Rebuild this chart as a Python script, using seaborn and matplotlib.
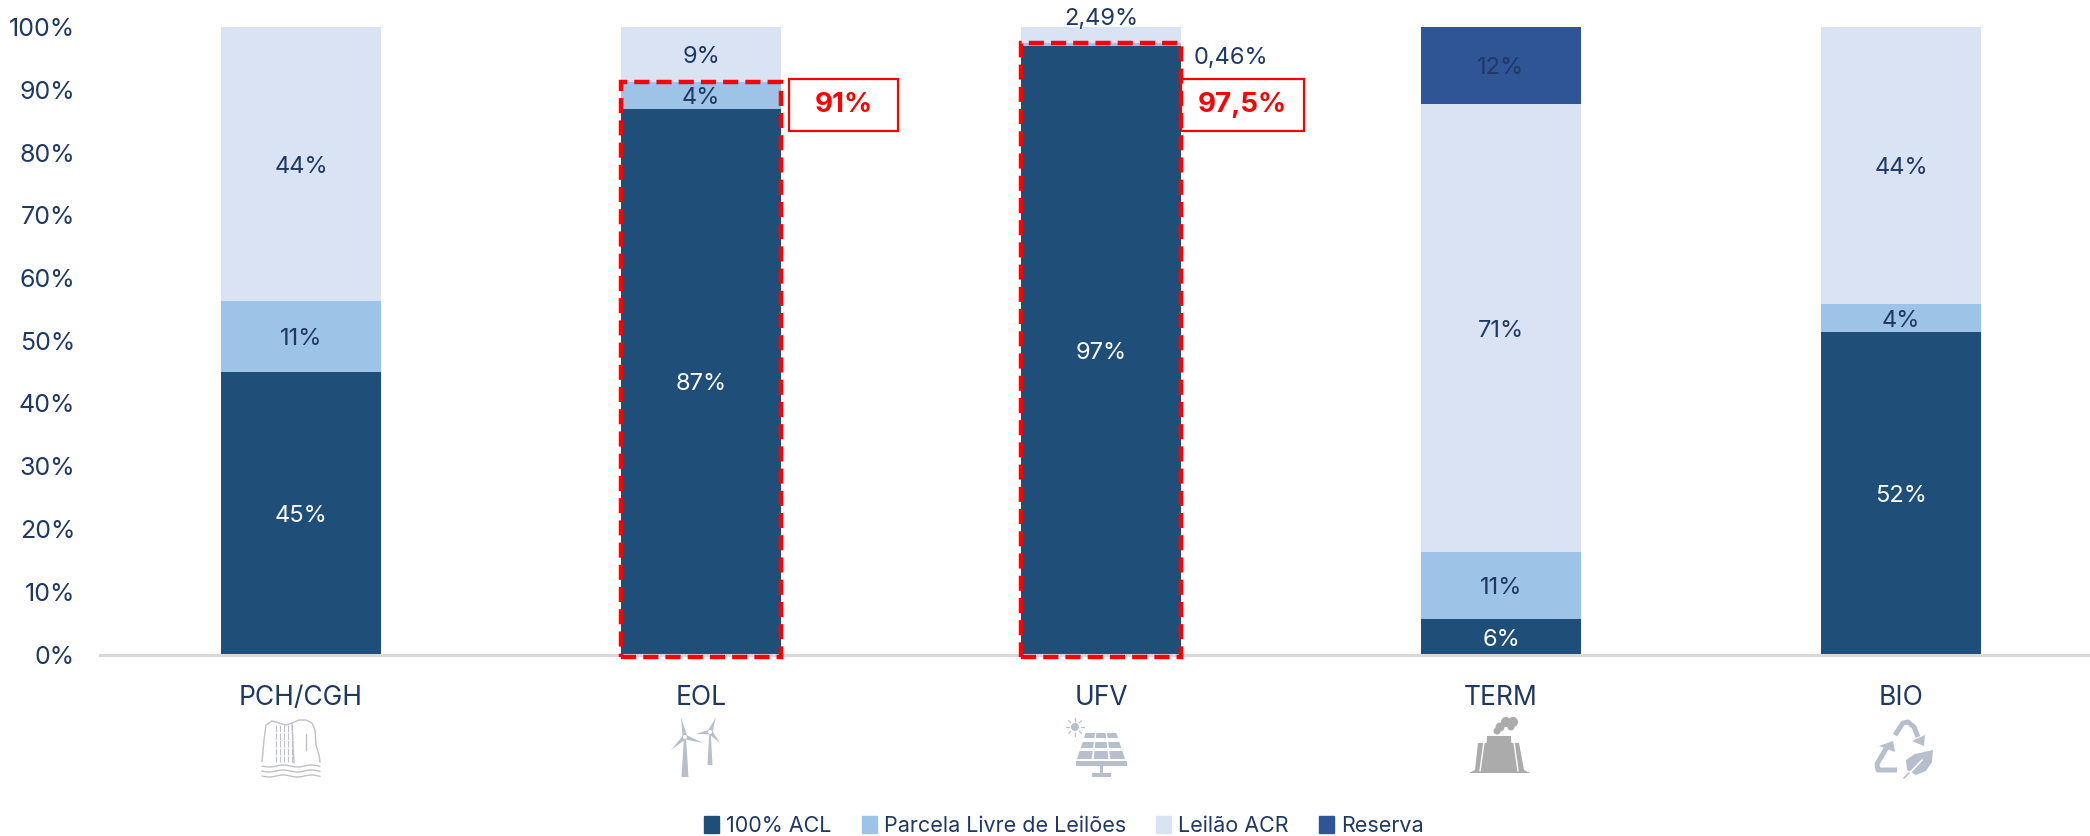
import matplotlib
matplotlib.use("Agg")
import matplotlib.pyplot as plt
import matplotlib.patches as mpatches
import numpy as np
import pandas as pd
import seaborn as sns

fontes = ["PCH/CGH", "EOL", "UFV", "TERM", "BIO"]
acl = [45.0, 87.0, 97.05, 5.6, 51.4]
livre = [11.4, 4.2, 0.46, 10.8, 4.5]
acr = [43.6, 8.8, 2.49, 71.3, 44.1]
reserva = [0, 0, 0, 12.3, 0]

rot_acl = ["45%", "87%", "97%", "6%", "52%"]
rot_livre = ["11%", "4%", "", "11%", "4%"]
rot_acr = ["44%", "9%", "", "71%", "44%"]
rot_reserva = ["", "", "", "12%", ""]

destaque_fontes = ["EOL", "UFV"]
destaque_valores = [91.3, 97.5]
destaque_rotulos = ["91%", "97,5%"]

nomes = ["100% ACL", "Parcela Livre de Leilões", "Leilão ACR", "Reserva"]
cores = ["#1F4E79", "#9DC3E6", "#DAE3F3", "#2F5597"]
cores_texto = ["white", "#1F3864", "#1F3864", "#1F3864"]
azul = "#1F3864"

sns.set_theme(style="white")
plt.rcParams["font.family"] = ["Inter", "DejaVu Sans"]

df = pd.DataFrame({"fonte": fontes, nomes[0]: acl, nomes[1]: livre, nomes[2]: acr, nomes[3]: reserva})
rotulos = [rot_acl, rot_livre, rot_acr, rot_reserva]

fig = plt.figure(figsize=(20.9, 8.36), dpi=100)
ax = fig.add_axes([100 / 2090, (836 - 654.5) / 836, 1990 / 2090, 627.5 / 836])

# barras empilhadas
base = np.zeros(len(fontes))
for nome, cor, cor_txt, rot in zip(nomes, cores, cores_texto, rotulos):
    sns.barplot(data=df, x="fonte", y=nome, color=cor, saturation=1, width=0.4, linewidth=0,
                bottom=base, errorbar=None, legend=False, ax=ax)
    ax.bar_label(ax.containers[-1], labels=rot, label_type="center", padding=-2,
                 color=cor_txt, fontsize=17)
    base = base + df[nome].values

ax.set_xlim((100 - 301) / 400, (2090 - 301) / 400)
ax.set_ylim(0, 100)
ax.set_xlabel("")
ax.set_ylabel("")
ax.set_yticks(range(0, 101, 10))
ax.set_yticklabels([f"{v}%" for v in range(0, 101, 10)])
ax.tick_params(axis="y", length=0, pad=18, labelsize=18, labelcolor=azul)
ax.tick_params(axis="x", length=0, pad=22, labelsize=19, labelcolor=azul)
sns.despine(ax=ax, left=True)
ax.spines["bottom"].set_color("#D9D9D9")
ax.spines["bottom"].set_linewidth(2.2)

# rotulos fora das barras do UFV
i_ufv = fontes.index("UFV")
ax.text(i_ufv, 101.3, "2,49%", ha="center", va="center", color=azul, fontsize=17, clip_on=False)
ax.text(i_ufv + 0.325, 95, "0,46%", ha="center", va="center", color=azul, fontsize=17)

# contorno tracejado
for f, v in zip(destaque_fontes, destaque_valores):
    i = fontes.index(f)
    ax.add_patch(mpatches.Rectangle((i - 0.2, -0.4), 0.4, v + 0.4, fill=False, edgecolor="#FF0000",
                                    linewidth=3.2, linestyle=(0, (3.4, 1.6)), clip_on=False, zorder=5))

# camada em pixels: caixas e icones
px = fig.add_axes([0, 0, 1, 1])
px.set_xlim(0, 2090)
px.set_ylim(836, 0)
px.axis("off")

for (x0, x1), txt in zip([(789, 898), (1181, 1304)], destaque_rotulos):
    px.add_patch(mpatches.Rectangle((x0, 79), x1 - x0, 52, fill=False, edgecolor="#FF0000", linewidth=1.6))
    px.text((x0 + x1) / 2, 105, txt, ha="center", va="center", color="#FF0000", fontsize=20, fontweight="bold")

# cachoeira
c = "#BFC1C6"
px.plot([262, 264, 266, 272, 279, 286, 292, 299, 306, 312, 315, 316, 319, 320],
        [762, 740, 725, 721, 723, 725, 723, 720, 720, 723, 730, 745, 755, 762], color=c, lw=1)
for x in [276, 280, 284, 288, 292]:
    px.plot([x, x], [725, 762], color=c, lw=0.8, linestyle=(0, (6, 1)))
px.plot([292, 294], [723, 763], color=c, lw=1)
px.plot([306, 306], [734, 750], color=c, lw=1)
for y in [766, 771, 776]:
    xs = np.linspace(262, 320, 30)
    px.plot(xs, y + np.sin((xs - 262) / 4.5), color=c, lw=1)

# turbinas
c = "#B8BFCC"
for hub, pontas, chao, larg in [((685, 737), [(681, 717), (703, 743), (671, 750)], 777, 3.5),
                                ((710, 732), [(716, 717), (696, 734), (720, 743)], 765, 2.5)]:
    px.add_patch(mpatches.Polygon([(hub[0] - larg / 3, hub[1] + 3), (hub[0] + larg / 3, hub[1] + 3),
                                   (hub[0] + larg, chao), (hub[0] - larg, chao)], color=c, lw=0))
    for p in pontas:
        d = np.array(p) - np.array(hub)
        n = np.array([-d[1], d[0]]) / np.hypot(*d) * 2.4
        px.add_patch(mpatches.Polygon([np.array(hub) + n, np.array(hub) - n, p], color=c, lw=0))
    px.add_patch(mpatches.Circle(hub, 1.3, color="white", zorder=3))

# painel solar
px.add_patch(mpatches.Circle((1075, 727), 4, color=c, lw=0))
for a in np.arange(0, 360, 45):
    dx, dy = np.cos(np.radians(a)), np.sin(np.radians(a))
    px.plot([1075 + 6 * dx, 1075 + 9 * dx], [727 + 6 * dy, 727 + 9 * dy], color=c, lw=0.9)
for y0, y1 in [(733, 738), (742, 748), (751, 759)]:
    esq = lambda y: 1085 - (y - 733) * 9 / 26
    dir_ = lambda y: 1117 + (y - 733) * 9 / 26
    for k in range(3):
        a0, a1 = (k + 0.06) / 3, (k + 0.94) / 3
        px.add_patch(mpatches.Polygon([(esq(y0) + (dir_(y0) - esq(y0)) * a0, y0), (esq(y0) + (dir_(y0) - esq(y0)) * a1, y0),
                                       (esq(y1) + (dir_(y1) - esq(y1)) * a1, y1), (esq(y1) + (dir_(y1) - esq(y1)) * a0, y1)],
                                      color=c, lw=0))
px.add_patch(mpatches.Rectangle((1076, 761), 51, 5, color=c, lw=0))
px.add_patch(mpatches.Rectangle((1099.5, 766), 3, 7, color=c, lw=0))
px.add_patch(mpatches.Rectangle((1092, 773), 19, 4, color=c, lw=0))

# termica
c = "#ABABAB"
px.add_patch(mpatches.Polygon([(1478, 743), (1519, 743), (1524, 770), (1530, 773), (1469, 773), (1475, 770)], color=c, lw=0))
px.add_patch(mpatches.Polygon([(1487, 736), (1511, 736), (1513, 773), (1485, 773)], color=c, lw=0))
px.plot([1484, 1480], [742, 771], color="white", lw=1)
px.plot([1514, 1518], [742, 771], color="white", lw=1)
for x, y, r in [(1497, 731, 3.5), (1500, 727, 4.5), (1506, 722, 5), (1513, 722, 5), (1511, 727, 3.5)]:
    px.add_patch(mpatches.Circle((x, y), r, color=c, lw=0))

# reciclagem com folha
c = "#B8BFCC"
px.plot([1895, 1903, 1908, 1914, 1918], [735, 723, 722, 727, 737], color=c, lw=3.6, solid_capstyle="butt")
px.add_patch(mpatches.Polygon([(1912, 741), (1925, 735), (1924, 746)], color=c, lw=0))
px.plot([1887, 1877, 1878, 1897], [747, 764, 770, 770], color=c, lw=3.6, solid_capstyle="butt")
px.add_patch(mpatches.Polygon([(1879, 746), (1893, 741), (1895, 752)], color=c, lw=0))
px.add_patch(mpatches.Polygon([(1933, 750), (1932, 762), (1926, 771), (1916, 775), (1907, 770), (1906, 760), (1915, 754)], color=c, lw=0))
px.plot([1905, 1922], [778, 760], color="white", lw=1.2)
px.plot([1904, 1909], [778, 773], color=c, lw=1.2)

# legenda
handles = [mpatches.Patch(color=cor, label=n) for cor, n in zip(cores, nomes)]
fig.legend(handles=handles, loc="lower left", bbox_to_anchor=(704 / 2090, 0), ncol=4, frameon=False,
           borderaxespad=0, borderpad=0, fontsize=15.5, handlelength=0.7, handleheight=0.82,
           handletextpad=0.33, columnspacing=1.4, labelcolor=azul)

fig.savefig("out.png", dpi=100)
